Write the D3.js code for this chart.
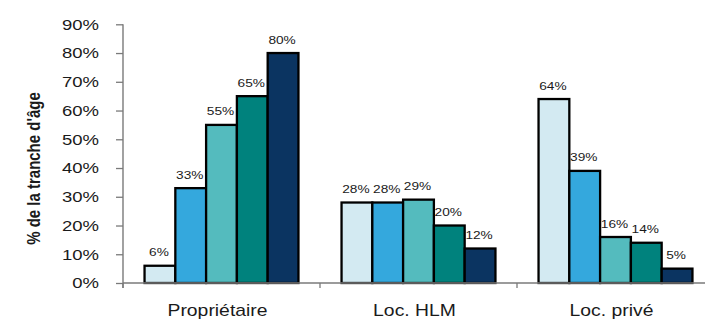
<!DOCTYPE html>
<html>
<head>
<meta charset="utf-8">
<script src="https://cdn.jsdelivr.net/npm/d3@7"></script>
<style>
  html, body { margin: 0; padding: 0; background: #fff; }
  svg { display: block; }
  text { font-family: "Liberation Sans", Arial, sans-serif; fill: #1a1a1a; }
</style>
</head>
<body>
<svg id="chart" width="705" height="321"></svg>
<script>
// Statut d'occupation selon la tranche d'âge
const categories = ["Propriétaire", "Loc. HLM", "Loc. privé"];
const series = ["t1", "t2", "t3", "t4", "t5"];
const seriesColors = ["#d3eaf2", "#34a8dd", "#54bbbe", "#00827d", "#0b3461"];
const values = [
  [0.06, 0.33, 0.55, 0.65, 0.80],   // Propriétaire
  [0.28, 0.28, 0.29, 0.20, 0.12],   // Loc. HLM
  [0.64, 0.39, 0.16, 0.14, 0.05]    // Loc. privé
];
const yTicks = [0, 0.1, 0.2, 0.3, 0.4, 0.5, 0.6, 0.7, 0.8, 0.9];
const yTitle = "% de la tranche d'âge";

const stretch = 1.21; // horizontal stretch applied to all text
const svg = d3.select("#chart");

const plotLeft = 123, plotRight = 714, plotTop = 24.3, plotBottom = 283;

const x0 = d3.scaleBand().domain(categories).range([plotLeft, plotRight]).padding(0);
const x1 = d3.scaleBand().domain(series).range([0, x0.bandwidth()])
  .paddingInner(0).paddingOuter(0.7);
const y = d3.scaleLinear().domain([0, 0.9]).range([plotBottom, plotTop]);
const fmt = d3.format(".0%");

// Bars
const groups = svg.append("g").selectAll("g")
  .data(categories)
  .join("g")
  .attr("transform", c => `translate(${x0(c)},0)`);

groups.selectAll("rect")
  .data((c, i) => values[i].map((v, j) => ({ s: series[j], v, j })))
  .join("rect")
  .attr("x", d => x1(d.s))
  .attr("y", d => y(d.v))
  .attr("width", x1.bandwidth())
  .attr("height", d => y(0) - y(d.v))
  .attr("fill", d => seriesColors[d.j])
  .attr("stroke", "#000")
  .attr("stroke-width", 2.3);

// Value labels
groups.selectAll("text.val")
  .data((c, i) => values[i].map((v, j) => ({ s: series[j], v })))
  .join("text")
  .attr("class", "val")
  .attr("text-anchor", "middle")
  .attr("font-size", 11.3)
  .attr("transform", d => `translate(${x1(d.s) + x1.bandwidth() / 2 - 1},${y(d.v) - 9.5}) scale(${stretch},1)`)
  .text(d => fmt(d.v));

// Y axis
const yAxis = svg.append("g")
  .attr("transform", `translate(${plotLeft},0)`)
  .call(d3.axisLeft(y).tickValues(yTicks).tickFormat(fmt).tickSize(7).tickPadding(17).tickSizeOuter(0));
yAxis.select(".domain").attr("stroke", "#7a7a7a").attr("stroke-width", 1.4)
  .attr("d", `M0,${plotTop}V${plotBottom + 5}`);
yAxis.selectAll(".tick line").attr("stroke", "#7a7a7a").attr("stroke-width", 1.3);
yAxis.selectAll(".tick text")
  .attr("font-size", 15.3)
  .attr("font-family", "Liberation Sans, Arial, sans-serif")
  .attr("fill", "#1a1a1a")
  .attr("x", -24 / stretch)
  .attr("transform", `scale(${stretch},1)`);

// X axis: baseline, boundary ticks, category labels
const xAxis = svg.append("g")
  .attr("transform", `translate(0,${plotBottom})`)
  .call(d3.axisBottom(x0).tickSize(0).tickPadding(21.5));
xAxis.select(".domain").attr("stroke", "#7a7a7a").attr("stroke-width", 1.4)
  .attr("d", `M${plotLeft},0H${plotRight}`);
xAxis.selectAll(".tick text")
  .attr("font-size", 16)
  .attr("font-family", "Liberation Sans, Arial, sans-serif")
  .attr("fill", "#1a1a1a")
  .attr("x", -4 / stretch)
  .attr("transform", `scale(${stretch},1)`);

const bounds = categories.map(c => x0(c)).concat([x0.range()[1]]);
xAxis.append("g").selectAll("line")
  .data(bounds)
  .join("line")
  .attr("x1", d => d).attr("x2", d => d)
  .attr("y1", 0).attr("y2", 5)
  .attr("stroke", "#7a7a7a").attr("stroke-width", 1.3);

// Y title
svg.append("text")
  .attr("text-anchor", "middle")
  .attr("font-size", 15)
  .attr("font-weight", "bold")
  .attr("dy", "0.35em")
  .attr("transform", `translate(34,168.5) scale(${stretch},1) rotate(-90)`)
  .text(yTitle);
</script>
</body>
</html>
